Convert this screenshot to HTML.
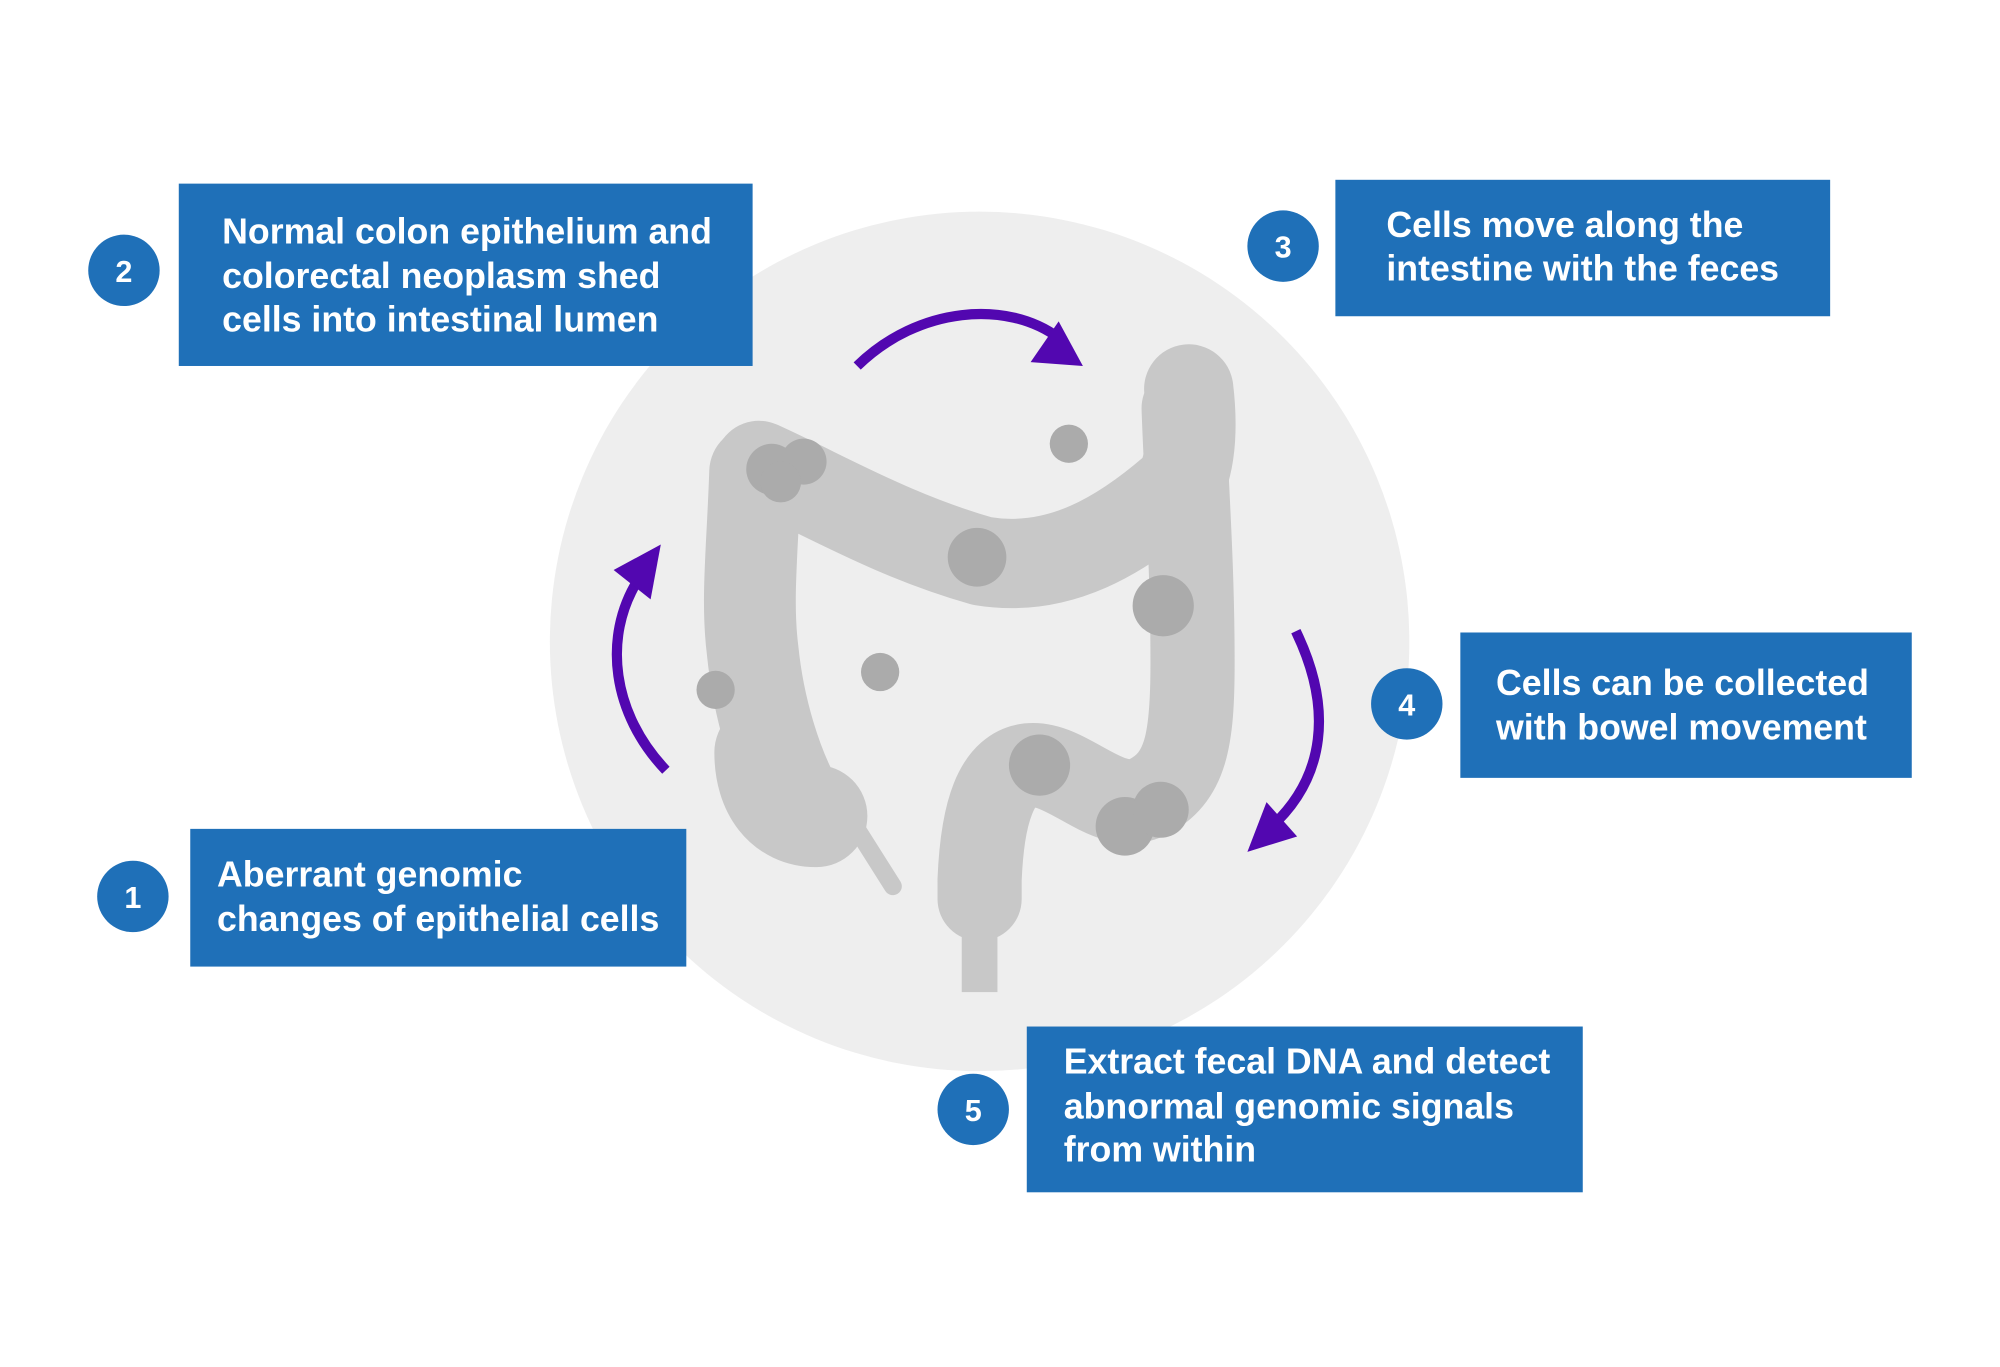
<!DOCTYPE html>
<html><head><meta charset="utf-8"><style>
html,body{margin:0;padding:0;background:#fff;width:2000px;height:1367px;overflow:hidden}
svg{display:block}
text{font-family:"Liberation Sans",sans-serif;font-weight:bold;fill:#fff;font-size:28px}
</style></head><body>
<svg width="2000" height="1367" viewBox="0 0 1568 1072" xmlns="http://www.w3.org/2000/svg">
<rect width="1568" height="1072" fill="#fff"/>
<circle cx="768" cy="503" r="337" fill="#eeeeee"/>
<g fill="none" stroke="#c8c8c8" stroke-linecap="round" stroke-linejoin="round">
<path d="M592 370 C590 430 585 470 590 510 C595 560 610 600 620 620" stroke-width="72"/>
<path d="M600 590 C600 620 615 640 640 640" stroke-width="80"/>
<path d="M640 600 L700 695" stroke-width="14"/>
<path d="M595 365 C650 390 700 420 770 440 C830 450 880 420 925 380 C935 360 935 330 932 305" stroke-width="70"/>
<path d="M928 320 C930 380 935 440 935 520 C935 580 930 610 900 625 C870 640 840 600 810 600 C780 600 770 640 768 690 L768 705" stroke-width="66"/>
</g>
<rect x="754" y="720" width="28" height="58" fill="#c8c8c8"/>
<g fill="#ababab">
<circle cx="605" cy="368" r="20"/><circle cx="630" cy="362" r="18"/><circle cx="612" cy="378" r="16"/>
<circle cx="838" cy="348" r="15"/>
<circle cx="766" cy="437" r="23"/>
<circle cx="912" cy="475" r="24"/>
<circle cx="690" cy="527" r="15"/>
<circle cx="561" cy="541" r="15"/>
<circle cx="815" cy="600" r="24"/>
<circle cx="882" cy="648" r="23"/><circle cx="910" cy="635" r="22"/>
</g>
<g fill="none" stroke="#5207b0" stroke-width="8">
<path d="M672 287 C720 240 790 235 830 265"/>
<path d="M522 604 C480 560 472 500 500 455"/>
<path d="M1016 495 C1045 555 1040 610 995 650"/>
</g>
<g fill="#5207b0">
<polygon points="849,287 808,284 830,252"/>
<polygon points="518,427 510,470 481,447"/>
<polygon points="978,668 993,629 1017,656"/>
</g>
<g fill="#1f70b8">
<rect x="140" y="144" width="450" height="143"/>
<rect x="1047" y="141" width="388" height="107"/>
<rect x="1145" y="496" width="354" height="114"/>
<rect x="149" y="650" width="389" height="108"/>
<rect x="805" y="805" width="436" height="130"/>
<circle cx="97" cy="212" r="28"/>
<circle cx="1006" cy="193" r="28"/>
<circle cx="1103" cy="552" r="28"/>
<circle cx="104" cy="703" r="28"/>
<circle cx="763" cy="870" r="28"/>
</g>
<g text-anchor="middle" style="font-size:24px">
<text x="97" y="221" style="font-size:24px">2</text><text x="1006" y="202" style="font-size:24px">3</text><text x="1103" y="561" style="font-size:24px">4</text><text x="104" y="712" style="font-size:24px">1</text><text x="763" y="879" style="font-size:24px">5</text>
</g>
<text x="174" y="191">Normal colon epithelium and</text>
<text x="174" y="226">colorectal neoplasm shed</text>
<text x="174" y="260">cells into intestinal lumen</text>
<text x="1087" y="186">Cells move along the</text>
<text x="1087" y="220">intestine with the feces</text>
<text x="1173" y="545">Cells can be collected</text>
<text x="1173" y="580">with bowel movement</text>
<text x="170" y="695">Aberrant genomic</text>
<text x="170" y="730">changes of epithelial cells</text>
<text x="834" y="842">Extract fecal DNA and detect</text>
<text x="834" y="877">abnormal genomic signals</text>
<text x="834" y="911">from within</text>
</svg>
</body></html>
